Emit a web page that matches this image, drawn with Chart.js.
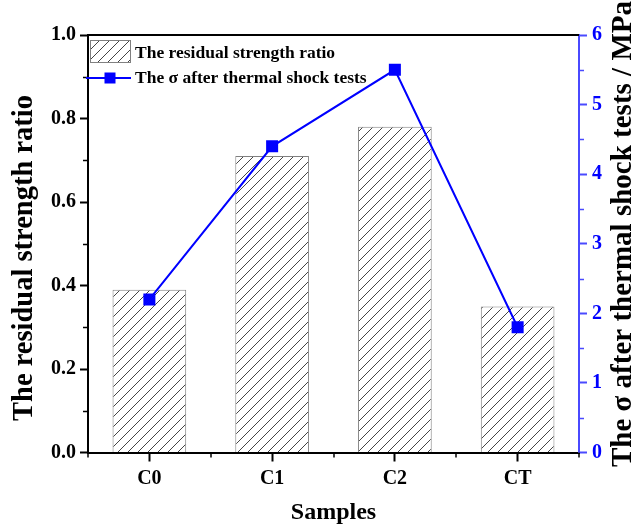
<!DOCTYPE html>
<html>
<head>
<meta charset="utf-8">
<script src="https://cdn.jsdelivr.net/npm/chart.js@4/dist/chart.umd.min.js"></script>
<style>
  html, body { margin: 0; padding: 0; background: #fff; }
  #wrap { width: 633px; height: 529px; }
</style>
</head>
<body>
<div id="wrap"><canvas id="chart" width="633" height="529"></canvas></div>
<script>
// chart data
const samples = ['C0', 'C1', 'C2', 'CT'];
const residualRatio = [0.39, 0.71, 0.78, 0.35];
const sigmaAfterShock = [2.2, 4.4, 5.5, 1.8];
const leftTicks = [0, 0.2, 0.4, 0.6, 0.8, 1.0];
const rightTicks = [0, 1, 2, 3, 4, 5, 6];

const FONT = "'Liberation Serif', 'Times New Roman', serif";
const BLUE = '#0000ff';
const BLUE_AXIS = '#4a4aff';

// diagonal hatch for the bars
function makeHatch() {
    const c = document.createElement('canvas');
    c.width = 10;
    c.height = 10;
    const g = c.getContext('2d');
    g.fillStyle = '#fff';
    g.fillRect(0, 0, 10, 10);
    g.strokeStyle = '#444';
    g.lineWidth = 1;
    g.beginPath();
    g.moveTo(0, 10); g.lineTo(10, 0);
    g.moveTo(-5, 5); g.lineTo(5, -5);
    g.moveTo(5, 15); g.lineTo(15, 5);
    g.stroke();
    return g.createPattern(c, 'repeat');
}
const hatch = makeHatch();

// minor ticks, frame line, titles and legend
const extras = {
    id: 'extras',
    afterDraw(chart) {
        const ctx = chart.ctx;
        const { x, y, y1 } = chart.scales;
        const area = chart.chartArea;
        ctx.save();

        // top frame
        ctx.strokeStyle = '#000';
        ctx.lineWidth = 2;
        ctx.beginPath();
        ctx.moveTo(area.left - 1, area.top);
        ctx.lineTo(area.right, area.top);
        ctx.stroke();

        // minor ticks left
        ctx.lineWidth = 1.5;
        ctx.beginPath();
        for (let v = 0.1; v < 1; v += 0.2) {
            const py = Math.round(y.getPixelForValue(v)) + 0.5;
            ctx.moveTo(area.left - 5, py);
            ctx.lineTo(area.left, py);
        }
        // minor ticks bottom (category boundaries)
        for (let i = 0; i <= samples.length; i++) {
            const px = Math.round(x.getPixelForValue(i - 0.5));
            ctx.moveTo(px, area.bottom);
            ctx.lineTo(px, area.bottom + 5);
        }
        ctx.stroke();

        // minor ticks right
        ctx.strokeStyle = BLUE_AXIS;
        ctx.beginPath();
        for (let v = 0.5; v < 6; v += 1) {
            const py = Math.round(y1.getPixelForValue(v)) + 0.5;
            ctx.moveTo(area.right, py);
            ctx.lineTo(area.right + 5, py);
        }
        ctx.stroke();

        // axis titles
        ctx.fillStyle = '#000';
        ctx.textBaseline = 'alphabetic';

        ctx.save();
        ctx.font = 'bold 28.5px ' + FONT;
        ctx.translate(32, 258);
        ctx.rotate(-Math.PI / 2);
        ctx.textAlign = 'center';
        ctx.fillText('The residual strength ratio', 0, 0);
        ctx.restore();

        ctx.save();
        ctx.font = 'bold 29px ' + FONT;
        ctx.translate(631, 467);
        ctx.rotate(-Math.PI / 2);
        ctx.textAlign = 'left';
        ctx.fillText('The \u03c3 after thermal shock tests / MPa', 0, 0);
        ctx.restore();

        ctx.font = 'bold 24px ' + FONT;
        ctx.textAlign = 'center';
        ctx.fillText('Samples', (area.left + area.right) / 2, 519);

        // legend
        ctx.fillStyle = hatch;
        ctx.fillRect(90, 40, 40, 22);
        ctx.strokeStyle = '#808080';
        ctx.lineWidth = 1;
        ctx.strokeRect(90.5, 40.5, 40, 22);

        ctx.strokeStyle = BLUE;
        ctx.lineWidth = 2;
        ctx.beginPath();
        ctx.moveTo(86, 78);
        ctx.lineTo(131, 78);
        ctx.stroke();
        ctx.fillStyle = BLUE;
        ctx.fillRect(104.5, 72.5, 11, 11);

        ctx.fillStyle = '#000';
        ctx.font = 'bold 17.5px ' + FONT;
        ctx.textAlign = 'left';
        ctx.fillText('The residual strength ratio', 135, 57.5);
        ctx.fillText('The \u03c3 after thermal shock tests', 135, 83);

        ctx.restore();
    }
};

new Chart(document.getElementById('chart'), {
    type: 'bar',
    data: {
        labels: samples,
        datasets: [
            {
                type: 'line',
                label: 'The \u03c3 after thermal shock tests',
                data: sigmaAfterShock,
                yAxisID: 'y1',
                borderColor: BLUE,
                backgroundColor: BLUE,
                borderWidth: 2,
                pointStyle: 'rect',
                pointRadius: 8.5,
                pointBorderWidth: 0,
                tension: 0,
                order: 0
            },
            {
                type: 'bar',
                label: 'The residual strength ratio',
                data: residualRatio,
                yAxisID: 'y',
                backgroundColor: hatch,
                borderColor: '#808080',
                borderWidth: 1,
                barPercentage: 0.6,
                categoryPercentage: 1,
                order: 1
            }
        ]
    },
    options: {
        responsive: false,
        animation: false,
        devicePixelRatio: 1,
        layout: { padding: { top: 35, left: 0, right: 0, bottom: 0 } },
        plugins: {
            legend: { display: false },
            tooltip: { enabled: false }
        },
        scales: {
            x: {
                offset: true,
                grid: { drawOnChartArea: false, offset: false, tickLength: 9, tickColor: '#000', tickWidth: 2 },
                border: { color: '#000', width: 2 },
                ticks: { color: '#000', padding: 5, font: { family: FONT, size: 20, weight: 'bold' } },
                afterFit: s => { s.height = 76.5; }
            },
            y: {
                position: 'left',
                min: 0,
                max: 1,
                afterBuildTicks: s => { s.ticks = leftTicks.map(v => ({ value: v })); },
                grid: { drawOnChartArea: false, tickLength: 8, tickColor: '#000', tickWidth: 2 },
                border: { color: '#000', width: 2 },
                ticks: {
                    color: '#000', padding: 4,
                    font: { family: FONT, size: 20, weight: 'bold' },
                    callback: v => Number(v).toFixed(1)
                },
                afterFit: s => { s.width = 88; }
            },
            y1: {
                position: 'right',
                min: 0,
                max: 6,
                afterBuildTicks: s => { s.ticks = rightTicks.map(v => ({ value: v })); },
                grid: { drawOnChartArea: false, tickLength: 8, tickColor: BLUE_AXIS, tickWidth: 2 },
                border: { color: BLUE_AXIS, width: 2 },
                ticks: {
                    color: BLUE, padding: 5,
                    font: { family: FONT, size: 20, weight: 'bold' }
                },
                afterFit: s => { s.width = 54; }
            }
        }
    },
    plugins: [extras]
});
</script>
</body>
</html>
